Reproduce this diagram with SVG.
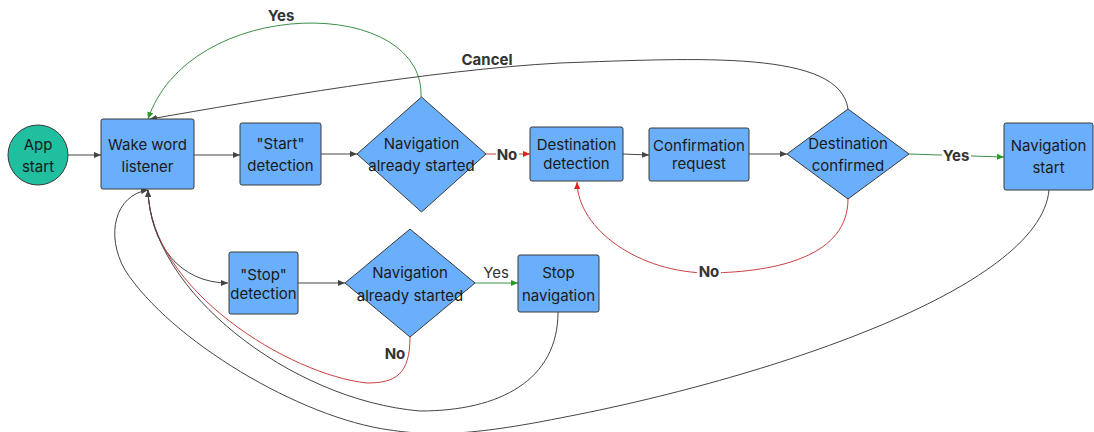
<svg xmlns="http://www.w3.org/2000/svg" width="1094" height="432" viewBox="0 0 1094 432">
<style>
.box{fill:#6aaffc;stroke:#3a3a3a;stroke-width:1}
.start{fill:#1fbf9f;stroke:#3a3a3a;stroke-width:1}
.t{font-family:Inter,"Liberation Sans",sans-serif;font-size:15px;fill:#1a1a1a;text-anchor:middle}
.lbl{font-family:Inter,"Liberation Sans",sans-serif;font-size:15px;font-weight:bold;fill:#333;text-anchor:middle}
.lblp{font-family:Inter,"Liberation Sans",sans-serif;font-size:15px;fill:#333;text-anchor:middle}
.c{fill:none;stroke:#444;stroke-width:1}
.cr{fill:none;stroke:#c94040;stroke-width:1}
.cg{fill:none;stroke:#3e8f47;stroke-width:1}
.bg{fill:#fff}
</style>
<defs>
<marker id="ad" viewBox="0 0 8 8" refX="8" refY="4" markerWidth="7" markerHeight="7" markerUnits="userSpaceOnUse" orient="auto"><path d="M0,0.5 L8,4 L0,7.5 z" fill="#444"/></marker>
<marker id="ar" viewBox="0 0 8 8" refX="8" refY="4" markerWidth="7" markerHeight="7" markerUnits="userSpaceOnUse" orient="auto"><path d="M0,0.5 L8,4 L0,7.5 z" fill="#d22"/></marker>
<marker id="ag" viewBox="0 0 8 8" refX="8" refY="4" markerWidth="7" markerHeight="7" markerUnits="userSpaceOnUse" orient="auto"><path d="M0,0.5 L8,4 L0,7.5 z" fill="#2a9a2a"/></marker>
</defs>
<g id="connectors">
<path class="c" d="M68,155 L101,155" marker-end="url(#ad)"/>
<path class="c" d="M194,155 L240,155" marker-end="url(#ad)"/>
<path class="c" d="M321,154 L357,154" marker-end="url(#ad)"/>
<path class="cr" d="M486,154 L530,154" marker-end="url(#ar)"/>
<path class="c" d="M623,154 L649,155" marker-end="url(#ad)"/>
<path class="c" d="M749,154 L787,154" marker-end="url(#ad)"/>
<path class="cg" d="M909,154 L1004,157" marker-end="url(#ag)"/>
<path class="cg" d="M421,97 C425,-5 190,-5 148,119" marker-end="url(#ag)"/>
<path class="c" d="M848,109 C840,50 700,58 560,63 C430,70 260,100 150,119" marker-end="url(#ad)"/>
<path class="cr" d="M848,199 C848,255 780,272 709,273 C640,273 578,230 577,182" marker-end="url(#ar)"/>
<path class="c" d="M148,190 C150,245 180,283 228,283" marker-end="url(#ad)"/>
<path class="c" d="M298,283 L345,283" marker-end="url(#ad)"/>
<path class="cg" d="M475,283 L518,283" marker-end="url(#ag)"/>
<path class="cr" d="M410,337 C410,375 395,383 367,383 C290,375 150,290 148,190" marker-end="url(#ad)"/>
<path class="c" d="M558,312 C558,380 500,411 420,411 C290,400 150,290 148,190" marker-end="url(#ad)"/>
<path class="c" d="M1049,190 C1040,290 760,380 560,418 C470,436 430,436 390,430 C300,418 170,340 125,270 C105,235 115,195 148,190" marker-end="url(#ad)"/>
<text class="lbl" x="281" y="21">Yes</text>
<text class="lbl" x="487" y="65">Cancel</text>
<rect class="bg" x="496" y="145" width="23" height="19"/>
<text class="lbl" x="507" y="160">No</text>
<rect class="bg" x="942" y="147" width="29" height="19"/>
<text class="lbl" x="956" y="161">Yes</text>
<rect class="bg" x="697" y="263" width="24" height="19"/>
<text class="lbl" x="709" y="277">No</text>
<text class="lblp" x="496" y="278">Yes</text>
<text class="lbl" x="395" y="359">No</text>
</g>
<g id="app-start"><circle class="start" cx="38" cy="155" r="30"/><text class="t" x="38" y="150">App</text><text class="t" x="38" y="172">start</text></g>
<g id="wake-word-listener"><rect class="box" x="101" y="119" width="93" height="70" rx="2"/><text class="t" x="147.5" y="150">Wake word</text><text class="t" x="147.5" y="172">listener</text></g>
<g id="start-detection"><rect class="box" x="240" y="123" width="81" height="62" rx="2"/><text class="t" x="280.5" y="149">"Start"</text><text class="t" x="280.5" y="171">detection</text></g>
<g id="nav-started-1"><polygon class="box" points="421.5,97 486,154 421.5,212 357,154"/><text class="t" x="421.5" y="149">Navigation</text><text class="t" x="421.5" y="171">already started</text></g>
<g id="destination-detection"><rect class="box" x="530" y="127" width="93" height="54" rx="2"/><text class="t" x="576.5" y="150">Destination</text><text class="t" x="576.5" y="169">detection</text></g>
<g id="confirmation-request"><rect class="box" x="649" y="128" width="100" height="53" rx="2"/><text class="t" x="699" y="151">Confirmation</text><text class="t" x="699" y="169">request</text></g>
<g id="destination-confirmed"><polygon class="box" points="848,109 909,154 848,199 787,154"/><text class="t" x="848" y="149">Destination</text><text class="t" x="848" y="171">confirmed</text></g>
<g id="navigation-start"><rect class="box" x="1004" y="123" width="89" height="67" rx="2"/><text class="t" x="1048.5" y="151">Navigation</text><text class="t" x="1048.5" y="173">start</text></g>
<g id="stop-detection"><rect class="box" x="229" y="252" width="69" height="62" rx="2"/><text class="t" x="263.5" y="280">"Stop"</text><text class="t" x="263.5" y="299">detection</text></g>
<g id="nav-started-2"><polygon class="box" points="410,229 475,283 410,337 345,283"/><text class="t" x="410" y="278">Navigation</text><text class="t" x="410" y="301">already started</text></g>
<g id="stop-navigation"><rect class="box" x="518" y="255" width="81" height="57" rx="2"/><text class="t" x="558.5" y="278">Stop</text><text class="t" x="558.5" y="301">navigation</text></g>
</svg>
